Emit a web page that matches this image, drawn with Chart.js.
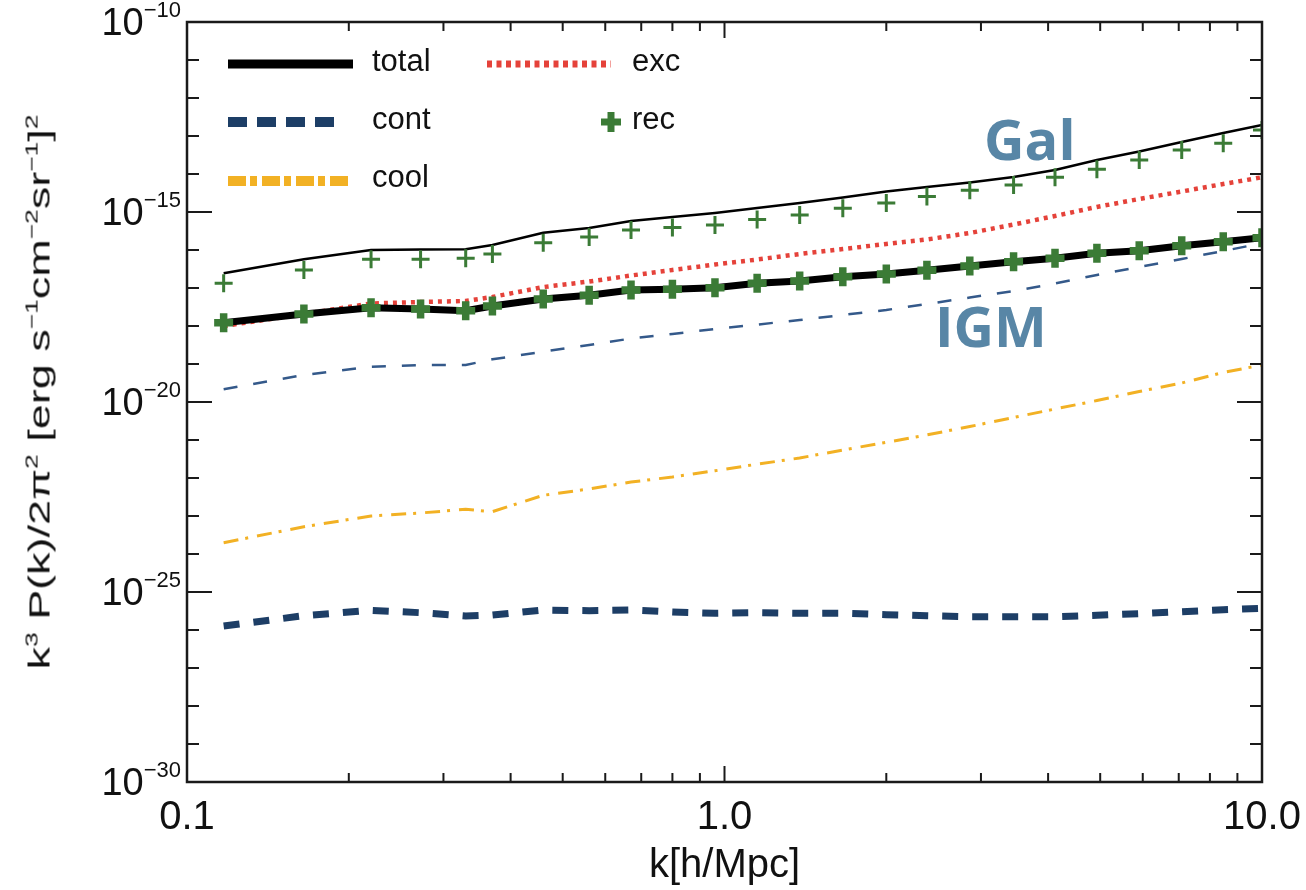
<!DOCTYPE html>
<html>
<head>
<meta charset="utf-8">
<script src="https://cdn.jsdelivr.net/npm/chart.js@4.4.0/dist/chart.umd.min.js"></script>
<style>
  html, body { margin: 0; padding: 0; background: #fff; }
  #wrap { position: relative; width: 1306px; height: 890px; }
  #legendContainer { position: absolute; left: 0; top: 0; font-family: 'Liberation Sans', Arial, sans-serif; font-size: 31px; color: #111; }
  #legendContainer svg, #legendContainer span { position: absolute; display: block; }
  #legendContainer span { line-height: 40px; white-space: nowrap; }
  .tag { position: absolute; font-family: 'Open Sans', sans-serif; font-weight: 700; font-size: 56px; line-height: 1; color: #5886a6; }
  #yTitle { position: absolute; left: 40px; top: 392px; white-space: nowrap; font-family: 'Liberation Sans', Arial, sans-serif; font-size: 29px; color: #111;
            transform: translate(-50%, -50%) rotate(-90deg) scaleX(1.55); }
  #yTitle sup { font-size: 17px; vertical-align: 12px; line-height: 0; }
  .ytick { position: absolute; left: 0; width: 181px; height: 44px; line-height: 44px; text-align: right; white-space: nowrap;
           font-family: 'Liberation Sans', Arial, sans-serif; font-size: 38px; color: #111; }
  .ytick sup { font-size: 22px; vertical-align: 18px; line-height: 0; }
</style>
</head>
<body>
<div id="wrap">
  <canvas id="spectreGraph" width="1306" height="890"></canvas>
  <div id="yTicks"></div>
  <div id="legendContainer"></div>
  <div id="yTitle">k<sup>3</sup> P(k)/2π<sup>2</sup> [erg s<sup>−1</sup>cm<sup>−2</sup>sr<sup>−1</sup>]<sup>2</sup></div>
  <div class="tag" style="left:984px; top:110px;">Gal</div>
  <div class="tag" style="left:935px; top:297px;">IGM</div>
</div>
<script>
// valeurs (k en h/Mpc)
const kBins = [0.117, 0.165, 0.22, 0.272, 0.33, 0.37, 0.46, 0.56, 0.67, 0.80, 0.96, 1.15,
               1.38, 1.66, 2.0, 2.38, 2.86, 3.45, 4.12, 4.93, 5.91, 7.09, 8.47, 10.0];

const totalGal = [2.44e-17, 5.69e-17, 1.0e-16, 1.03e-16, 1.04e-16, 1.36e-16, 2.85e-16, 3.79e-16,
                  5.80e-16, 7.38e-16, 9.42e-16, 1.27e-15, 1.73e-15, 2.41e-15, 3.46e-15, 4.55e-15,
                  5.97e-15, 8.34e-15, 1.27e-14, 2.34e-14, 3.91e-14, 6.95e-14, 1.20e-13, 1.95e-13];
const recGal = [1.33e-17, 2.98e-17, 5.69e-17, 5.69e-17, 6.05e-17, 7.85e-17, 1.56e-16, 2.20e-16,
                3.36e-16, 3.91e-16, 4.55e-16, 6.35e-16, 8.34e-16, 1.25e-15, 1.73e-15, 2.56e-15,
                3.72e-15, 5.14e-15, 8.19e-15, 1.33e-14, 2.34e-14, 4.28e-14, 6.43e-14, 1.44e-13];
const excGal = [1.0e-18, 2.07e-18, 3.91e-18, 4.28e-18, 4.55e-18, 5.80e-18, 1.06e-17, 1.48e-17,
                2.13e-17, 2.98e-17, 4.15e-17, 5.62e-17, 7.85e-17, 1.06e-16, 1.44e-16, 1.89e-16,
                2.80e-16, 4.69e-16, 7.85e-16, 1.36e-15, 2.20e-15, 3.46e-15, 5.46e-15, 8.19e-15];
const totalIGM = [1.22e-18, 2.07e-18, 3.03e-18, 2.80e-18, 2.53e-18, 3.36e-18, 5.14e-18, 6.43e-18,
                  8.85e-18, 9.24e-18, 1.02e-17, 1.33e-17, 1.53e-17, 1.98e-17, 2.34e-17, 2.92e-17,
                  3.79e-17, 4.92e-17, 6.05e-17, 8.18e-17, 9.59e-17, 1.30e-16, 1.65e-16, 2.11e-16];
const recIGM = [1.22e-18, 2.07e-18, 3.03e-18, 2.80e-18, 2.53e-18, 3.36e-18, 5.14e-18, 6.43e-18,
                8.85e-18, 9.24e-18, 1.02e-17, 1.33e-17, 1.53e-17, 1.98e-17, 2.34e-17, 2.92e-17,
                3.79e-17, 4.92e-17, 6.05e-17, 8.18e-17, 9.59e-17, 1.30e-16, 1.65e-16, 2.11e-16];
const contGal = [2.16e-20, 5.14e-20, 8.49e-20, 9.42e-20, 9.42e-20, 1.33e-19, 2.11e-19, 3.16e-19,
                 4.69e-19, 6.15e-19, 8.34e-19, 1.09e-18, 1.44e-18, 1.95e-18, 2.64e-18, 3.79e-18,
                 5.62e-18, 8.34e-18, 1.31e-17, 2.20e-17, 3.57e-17, 5.80e-17, 9.42e-17, 1.50e-16];
const coolIGM = [1.98e-24, 5.23e-24, 1.0e-23, 1.20e-23, 1.50e-23, 1.30e-23, 3.51e-23, 5.14e-23,
                 7.85e-23, 1.06e-22, 1.55e-22, 2.31e-22, 3.36e-22, 5.46e-22, 8.69e-22, 1.36e-21,
                 2.26e-21, 3.91e-21, 6.55e-21, 1.09e-20, 1.89e-20, 3.16e-20, 5.97e-20, 9.42e-20];
const contIGM = [1.27e-26, 2.38e-26, 3.30e-26, 2.85e-26, 2.33e-26, 2.48e-26, 3.36e-26, 3.22e-26,
                 3.36e-26, 2.98e-26, 2.75e-26, 2.85e-26, 2.75e-26, 2.75e-26, 2.53e-26, 2.38e-26,
                 2.24e-26, 2.24e-26, 2.24e-26, 2.44e-26, 2.69e-26, 3.03e-26, 3.42e-26, 3.72e-26];

// axes
const xTickValues = [0.1, 1, 10];
const xTickLabels = ['0.1', '1.0', '10.0'];
const xMinorValues = [0.2, 0.3, 0.4, 0.5, 0.6, 0.7, 0.8, 0.9, 1, 2, 3, 4, 5, 6, 7, 8, 9];
const yTickValues = [1e-30, 1e-25, 1e-20, 1e-15, 1e-10];
const yTickExponents = ['−30', '−25', '−20', '−15', '−10'];
const yMinorValues = [1e-30, 1e-29, 1e-28, 1e-27, 1e-26, 1e-25, 1e-24, 1e-23, 1e-22, 1e-21, 1e-20,
                      1e-19, 1e-18, 1e-17, 1e-16, 1e-15, 1e-14, 1e-13, 1e-12, 1e-11, 1e-10];

const GREEN = '#3b7b36';
const RED = '#e5423a';
const NAVY = '#1d3e66';
const BLUE = '#34598a';
const YELLOW = '#f2b124';

function pts(arr) {
    return arr.map((v, i) => ({x: kBins[i], y: v}));
}

// cadre + graduations vers l'interieur
const frameTicks = {
    id: 'frameTicks',
    afterDraw(chart) {
        const {ctx, chartArea: a} = chart;
        const xs = chart.scales.x;
        const ys = chart.scales.y;
        ctx.save();
        ctx.strokeStyle = '#1a1a1a';
        ctx.lineWidth = 2;
        ctx.beginPath();
        xMinorValues.forEach(v => {
            const px = xs.getPixelForValue(v);
            const len = xTickValues.includes(v) ? 16 : 9;
            ctx.moveTo(px, a.bottom); ctx.lineTo(px, a.bottom - len);
            ctx.moveTo(px, a.top); ctx.lineTo(px, a.top + len);
        });
        yMinorValues.forEach(v => {
            const py = ys.getPixelForValue(v);
            const len = yTickValues.includes(v) ? 25 : 12;
            ctx.moveTo(a.left, py); ctx.lineTo(a.left + len, py);
            ctx.moveTo(a.right, py); ctx.lineTo(a.right - len, py);
        });
        ctx.stroke();
        ctx.lineWidth = 2.5;
        ctx.strokeRect(a.left, a.top, a.right - a.left, a.bottom - a.top);
        ctx.restore();
    }
};

const ctx = document.getElementById('spectreGraph').getContext('2d');
const chart = new Chart(ctx, {
    type: 'line',
    data: {
        datasets: [
            {label: 'rec', data: pts(recIGM), showLine: false, pointStyle: 'cross', pointRadius: 9.5,
             pointBorderWidth: 7.5, borderColor: GREEN, backgroundColor: GREEN},
            {label: 'rec', data: pts(recGal), showLine: false, pointStyle: 'cross', pointRadius: 9,
             pointBorderWidth: 3, borderColor: GREEN, backgroundColor: GREEN},
            {label: 'total', data: pts(totalIGM), borderColor: '#000', borderWidth: 7, pointRadius: 0},
            {label: 'total', data: pts(totalGal), borderColor: '#000', borderWidth: 2.5, pointRadius: 0},
            {label: 'exc', data: pts(excGal), borderColor: RED, borderWidth: 4.5, borderDash: [4, 5], pointRadius: 0},
            {label: 'cont', data: pts(contGal), borderColor: BLUE, borderWidth: 2.5, borderDash: [14, 16], pointRadius: 0},
            {label: 'cool', data: pts(coolIGM), borderColor: YELLOW, borderWidth: 3, borderDash: [15, 7, 3, 9], pointRadius: 0},
            {label: 'cont', data: pts(contIGM), borderColor: NAVY, borderWidth: 7, borderDash: [16, 14], pointRadius: 0}
        ]
    },
    options: {
        responsive: false,
        animation: false,
        devicePixelRatio: 1,
        events: [],
        layout: {padding: {top: 22, right: 44, bottom: 0, left: 0}},
        elements: {line: {tension: 0, fill: false}},
        plugins: {legend: {display: false}, tooltip: {enabled: false}},
        scales: {
            x: {
                type: 'logarithmic',
                min: 0.1,
                max: 10,
                grid: {display: false, drawTicks: false},
                border: {display: false},
                afterBuildTicks: s => { s.ticks = xTickValues.map(v => ({value: v})); },
                afterFit: s => { s.height = 108; s.paddingLeft = 0; s.paddingRight = 0; },
                ticks: {
                    autoSkip: false, maxRotation: 0, padding: 12, color: '#111',
                    font: {family: "'Liberation Sans', Arial, sans-serif", size: 40},
                    callback: (value, index) => xTickLabels[index]
                },
                title: {
                    display: true, text: 'k[h/Mpc]', color: '#111', padding: 0,
                    font: {family: "'Liberation Sans', Arial, sans-serif", size: 40}
                }
            },
            y: {
                type: 'logarithmic',
                min: 1e-30,
                max: 1e-10,
                grid: {display: false, drawTicks: false},
                border: {display: false},
                afterBuildTicks: s => { s.ticks = yTickValues.map(v => ({value: v})); },
                afterFit: s => { s.width = 187; s.paddingTop = 0; s.paddingBottom = 0; },
                ticks: {display: false}
            }
        }
    },
    plugins: [frameTicks]
});

// etiquettes de l'axe y avec vrais exposants, placees par l'echelle du graphique
const yTicks = document.getElementById('yTicks');
yTicks.innerHTML = yTickValues.map((v, i) => {
    const py = chart.scales.y.getPixelForValue(v);
    return `<div class="ytick" style="top:${py - 22}px">10<sup>${yTickExponents[i]}</sup></div>`;
}).join('');

// legende faite a la main (deux colonnes)
const legendContainer = document.getElementById('legendContainer');
legendContainer.innerHTML = `
  <svg style="left:228px; top:44px" width="126" height="40"><line x1="0" y1="20" x2="125" y2="20" stroke="#000" stroke-width="9"/></svg>
  <span style="left:372px; top:41px">total</span>
  <svg style="left:228px; top:102px" width="126" height="40"><line x1="0" y1="20" x2="112" y2="20" stroke="${NAVY}" stroke-width="10" stroke-dasharray="19 10"/></svg>
  <span style="left:372px; top:99px">cont</span>
  <svg style="left:228px; top:161px" width="126" height="40"><line x1="0" y1="20" x2="121" y2="20" stroke="${YELLOW}" stroke-width="10" stroke-dasharray="18 4 7 5"/></svg>
  <span style="left:372px; top:157px">cool</span>
  <svg style="left:487px; top:44px" width="126" height="40"><line x1="0" y1="20" x2="124" y2="20" stroke="${RED}" stroke-width="7" stroke-dasharray="5 4.5"/></svg>
  <span style="left:632px; top:41px">exc</span>
  <svg style="left:601px; top:112px" width="20" height="20"><line x1="0" y1="10" x2="20" y2="10" stroke="${GREEN}" stroke-width="7"/><line x1="10" y1="0" x2="10" y2="20" stroke="${GREEN}" stroke-width="7"/></svg>
  <span style="left:632px; top:99px">rec</span>
`;
</script>
</body>
</html>
